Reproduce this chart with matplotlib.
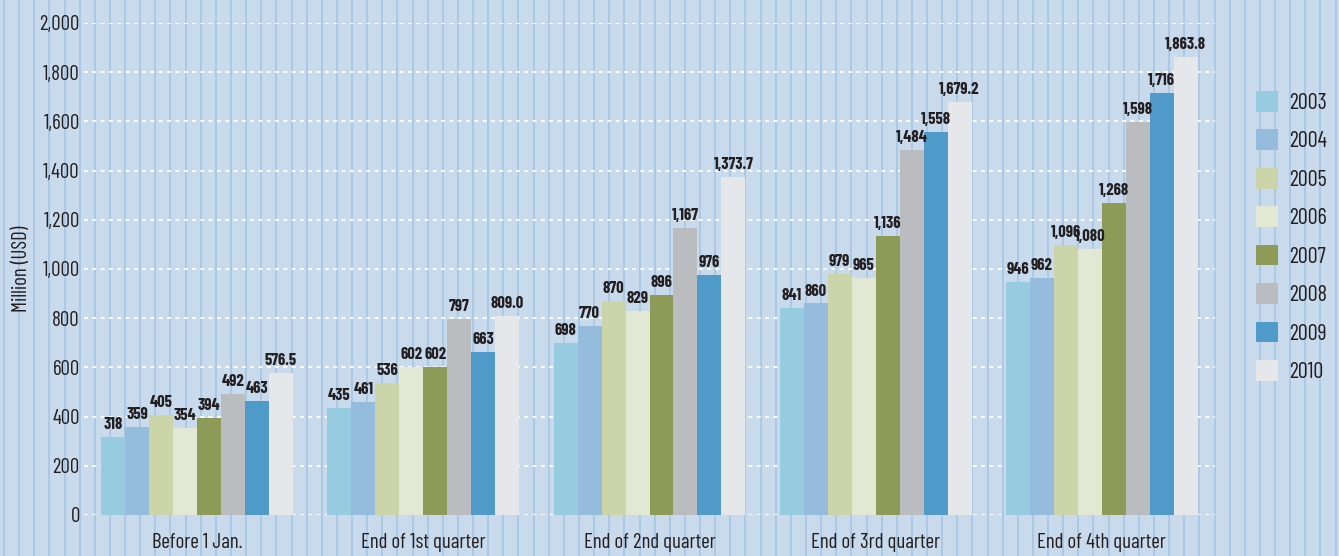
import numpy as np
import matplotlib
matplotlib.use("Agg")
import matplotlib.pyplot as plt
from matplotlib.lines import Line2D
import logging
logging.getLogger("matplotlib.font_manager").setLevel(logging.ERROR)

# Data
periods = ["Before 1 Jan.", "End of 1st quarter", "End of 2nd quarter",
           "End of 3rd quarter", "End of 4th quarter"]
years = ["2003", "2004", "2005", "2006", "2007", "2008", "2009", "2010"]
v2003 = [318, 435, 698, 841, 946]
v2004 = [359, 461, 770, 860, 962]
v2005 = [405, 536, 870, 979, 1096]
v2006 = [354, 602, 829, 965, 1080]
v2007 = [394, 602, 896, 1136, 1268]
v2008 = [492, 797, 1167, 1484, 1598]
v2009 = [463, 663, 976, 1558, 1716]
v2010 = [576.5, 809.0, 1373.7, 1679.2, 1863.8]
series = [v2003, v2004, v2005, v2006, v2007, v2008, v2009, v2010]
yticks = [0, 200, 400, 600, 800, 1000, 1200, 1400, 1600, 1800, 2000]

colors = ["#97cbe0", "#95bbdd", "#cbd5a9", "#e2e8d3",
          "#8e9a58", "#bbbcc0", "#4f9ac8", "#e5e7ea"]
bg = "#c9daec"
txt = "#231f20"
narrow = ["Barlow Condensed", "Roboto Condensed", "Fira Sans Condensed",
          "Archivo Narrow", "Liberation Sans Narrow", "DejaVu Sans"]

fig = plt.figure(figsize=(13.39, 5.56), dpi=100, facecolor=bg)

# background stripes
for x in np.arange(4, 1339, 1150 / 76):
    fig.add_artist(Line2D([x / 1339, x / 1339], [0, 1], transform=fig.transFigure,
                          color="#a6c5e4", lw=1.2, zorder=0))

ax = fig.add_axes([84 / 1339, 41 / 556, (1215 - 84) / 1339, (515 - 23) / 556])
ax.patch.set_alpha(0)

x = np.arange(len(periods))
w = 0.106
for i, (yr, vals) in enumerate(zip(years, series)):
    pos = x + (i - 3.5) * w
    ax.bar(pos, vals, width=w, color=colors[i], label=yr, zorder=3)
    for p, v in zip(pos, vals):
        lab = f"{v:,.1f}" if yr == "2010" else f"{int(v):,}"
        ax.text(p, v + 20, lab, ha="center", va="bottom", fontsize=12,
                fontweight="bold", family=narrow, color=txt, zorder=4)

ax.set_xlim(-0.5, 4.5)
ax.set_ylim(0, 2000)
ax.set_yticks(yticks)
ax.set_yticklabels([f"{t:,}" for t in yticks], family=narrow, fontsize=15, color=txt)
ax.set_xticks(x)
ax.set_xticklabels(periods, family=narrow, fontsize=15, color=txt)
ax.tick_params(axis="y", length=0, pad=3)
ax.tick_params(axis="x", length=0, pad=13)
ax.yaxis.grid(True, color="white", linestyle=(0, (2.2, 2.4)), lw=1.3, zorder=1)
ax.set_axisbelow(True)
for s in ax.spines.values():
    s.set_visible(False)
ax.set_ylabel("Million (USD)", family=narrow, fontsize=15, color=txt, labelpad=6)

leg = fig.legend(loc="upper left", bbox_to_anchor=(1256 / 1339, 1 - 91 / 556),
                 frameon=False, handlelength=1.0, handleheight=1.05,
                 labelspacing=0.7, handletextpad=0.5, borderpad=0,
                 borderaxespad=0, prop={"family": narrow, "size": 16})
for t in leg.get_texts():
    t.set_color(txt)

fig.savefig("out.png", dpi=100, facecolor=bg)
